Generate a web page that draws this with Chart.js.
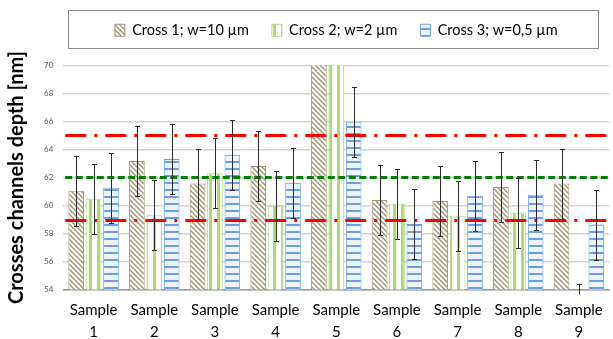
<!DOCTYPE html>
<html>
<head>
<meta charset="utf-8">
<script src="https://cdn.jsdelivr.net/npm/chart.js@4/dist/chart.umd.min.js"></script>
<style>
  html, body { margin: 0; padding: 0; background: #fff; }
  #wrap { width: 613px; height: 339px; position: relative; }
</style>
</head>
<body>
<div id="wrap"><canvas id="grafico"></canvas></div>
<script>
/* ── DATOS ── */
var categorias = [['Sample', '1'], ['Sample', '2'], ['Sample', '3'], ['Sample', '4'], ['Sample', '5'],
                  ['Sample', '6'], ['Sample', '7'], ['Sample', '8'], ['Sample', '9']];
var nombresSeries = ['Cross 1; w=10 µm', 'Cross 2; w=2 µm', 'Cross 3; w=0,5 µm'];

var cross1 = [61.05, 63.17, 61.57, 62.83, 75, 60.40, 60.33, 61.33, 61.57];
var cross2 = [60.48, 59.31, 62.31, 59.95, 75, 60.12, 59.26, 59.48, 54.0];
var cross3 = [61.26, 63.33, 63.62, 61.62, 65.98, 58.67, 60.69, 60.76, 58.64];

var error1 = [2.5, 2.5, 2.5, 2.5, 2.5, 2.5, 2.5, 2.5, 2.5];
var error2 = [2.5, 2.5, 2.5, 2.5, 2.5, 2.5, 2.5, 2.5, 0.4];
var error3 = [2.5, 2.5, 2.5, 2.5, 2.5, 2.5, 2.5, 2.5, 2.5];

/* Líneas de referencia: superior, media, inferior */
var nivelesReferencia = [65.05, 62.02, 59.0];

var ejeYMin = 54, ejeYMax = 70, ejeYPaso = 2;

/* ── PATRONES DE RELLENO ── */
function patronDiagonal() {
    var c = document.createElement('canvas');
    c.width = 5; c.height = 5;
    var g = c.getContext('2d');
    g.fillStyle = '#ffffff';
    g.fillRect(0, 0, 5, 5);
    g.strokeStyle = '#9e9270';
    g.lineWidth = 1.4;
    g.beginPath();
    g.moveTo(-1, -1); g.lineTo(6, 6);
    g.moveTo(-1, 4); g.lineTo(1, 6);
    g.moveTo(4, -1); g.lineTo(6, 1);
    g.stroke();
    return g.createPattern(c, 'repeat');
}

function patronVertical() {
    var c = document.createElement('canvas');
    c.width = 8; c.height = 4;
    var g = c.getContext('2d');
    g.fillStyle = '#ffffff';
    g.fillRect(0, 0, 8, 4);
    g.fillStyle = '#a8dc74';
    g.fillRect(1, 0, 3, 4);
    return g.createPattern(c, 'repeat');
}

function patronHorizontal() {
    var c = document.createElement('canvas');
    c.width = 4; c.height = 7;
    var g = c.getContext('2d');
    g.fillStyle = '#eef4fc';
    g.fillRect(0, 0, 4, 7);
    g.fillStyle = '#6d9fe0';
    g.fillRect(0, 0, 4, 2);
    return g.createPattern(c, 'repeat');
}

var errores = [error1, error2, error3];

/* ── PLUGIN: espacio extra bajo la leyenda ── */
var pluginEspacio = {
    id: 'espacio',
    beforeInit: function (chart) {
        var fitOriginal = chart.legend.fit;
        chart.legend.fit = function () {
            fitOriginal.bind(chart.legend)();
            this.height += 18;
        };
    }
};

/* ── PLUGIN: líneas de referencia y barras de error ── */
var pluginExtras = {
    id: 'extras',
    afterDatasetsDraw: function (chart) {
        var ctx = chart.ctx;
        var area = chart.chartArea;
        var y = chart.scales.y;
        ctx.save();
        ctx.beginPath();
        ctx.rect(area.left, area.top - 1, area.right - area.left, area.bottom - area.top + 6);
        ctx.clip();

        /* Líneas de referencia */
        ctx.lineWidth = 3;
        nivelesReferencia.forEach(function (v, i) {
            var py = Math.round(y.getPixelForValue(v)) + 0.5;
            if (i === 1) {
                ctx.strokeStyle = '#008000';
                ctx.setLineDash([7, 3.5]);
            } else {
                ctx.strokeStyle = '#ff0000';
                ctx.setLineDash([21, 8, 3, 8]);
            }
            ctx.beginPath();
            ctx.moveTo(area.left + 2, py);
            ctx.lineTo(area.right, py);
            ctx.stroke();
        });
        ctx.setLineDash([]);

        /* Barras de error */
        ctx.strokeStyle = '#2b2b2b';
        ctx.lineWidth = 1;
        chart.data.datasets.forEach(function (ds, d) {
            var meta = chart.getDatasetMeta(d);
            meta.data.forEach(function (bar, i) {
                var v = ds.data[i];
                var e = errores[d][i];
                var x = Math.round(bar.x) + 0.5;
                var yt = Math.round(y.getPixelForValue(v + e)) + 0.5;
                var yb = Math.round(y.getPixelForValue(v - e)) + 0.5;
                ctx.beginPath();
                ctx.moveTo(x, yt); ctx.lineTo(x, yb);
                ctx.moveTo(x - 2.5, yt); ctx.lineTo(x + 2.5, yt);
                ctx.moveTo(x - 2.5, yb); ctx.lineTo(x + 2.5, yb);
                ctx.stroke();
            });
        });
        ctx.restore();
    },
    afterDraw: function (chart) {
        /* Marco alrededor de la leyenda */
        var ctx = chart.ctx;
        ctx.save();
        ctx.strokeStyle = '#8c8c8c';
        ctx.lineWidth = 1;
        ctx.strokeRect(68.5, 10.5, 530, 38);
        ctx.restore();
    }
};

var fuente = "Lato, 'Open Sans', sans-serif";

function crearGrafico() {
    var canvas = document.getElementById('grafico');
    new Chart(canvas, {
        type: 'bar',
        data: {
            labels: categorias,
            datasets: [
                { label: nombresSeries[0], data: cross1, backgroundColor: patronDiagonal(), borderColor: '#a39672', borderWidth: 1 },
                { label: nombresSeries[1], data: cross2, backgroundColor: patronVertical(), borderColor: '#a9dc7a', borderWidth: 1 },
                { label: nombresSeries[2], data: cross3, backgroundColor: patronHorizontal(), borderColor: '#6d9fe0', borderWidth: 1 }
            ]
        },
        options: {
            responsive: true,
            maintainAspectRatio: false,
            animation: false,
            devicePixelRatio: 1,
            layout: { padding: { top: 0, right: 0, left: 5, bottom: 0 } },
            datasets: { bar: { categoryPercentage: 0.86, barPercentage: 0.9 } },
            plugins: {
                tooltip: { enabled: false },
                legend: {
                    position: 'top',
                    fullSize: false,
                    labels: {
                        color: '#000',
                        font: { family: fuente, size: 14.5 },
                        boxWidth: 10,
                        boxHeight: 12,
                        padding: 23
                    }
                }
            },
            scales: {
                x: {
                    grid: { display: false, drawTicks: false },
                    border: { color: '#9a9a9a', width: 1.5 },
                    ticks: { color: '#000', font: { family: fuente, size: 15, lineHeight: 1.47 }, maxRotation: 0, autoSkip: false, padding: 10 },
                    /* Altura fija del eje X: las etiquetas pueden salir por abajo como en el original */
                    afterFit: function (scale) { scale.height = 49.5; }
                },
                y: {
                    min: ejeYMin,
                    max: ejeYMax,
                    ticks: { stepSize: ejeYPaso, color: '#595959', font: { family: fuente, size: 8 }, padding: 10 },
                    grid: { color: '#d4d4d4', lineWidth: 1.5, drawTicks: false },
                    border: { display: false },
                    title: {
                        display: true,
                        text: 'Crosses channels depth [nm]',
                        color: '#000',
                        font: { family: fuente, size: 20, weight: 'bold' },
                        padding: { top: 0, bottom: 5 }
                    }
                }
            }
        },
        plugins: [pluginEspacio, pluginExtras]
    });
}

crearGrafico();
</script>
</body>
</html>
